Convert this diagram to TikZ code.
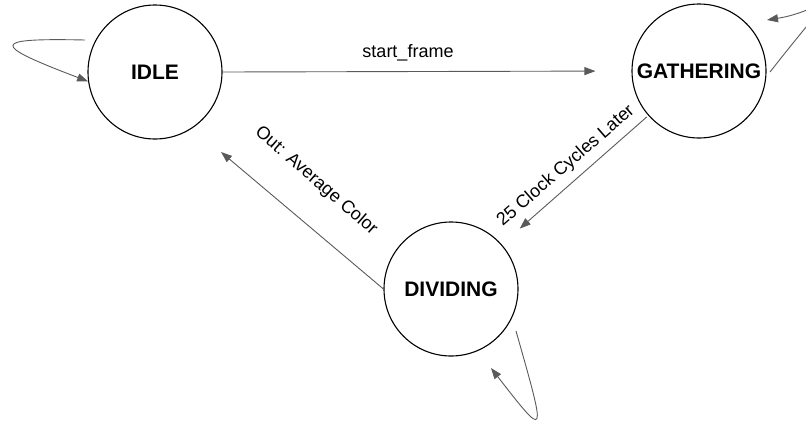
\documentclass[tikz,border=0pt]{standalone}
\usepackage{fontspec}
\setmainfont{Liberation Sans}
\usetikzlibrary{arrows.meta}
\definecolor{edgegray}{HTML}{5A5A5A}
\begin{document}
\begin{tikzpicture}[x=1pt,y=-1pt,
  state/.style={circle,draw=black,line width=1.1pt,minimum size=134pt,inner sep=0pt,
    font=\fontsize{21}{24}\selectfont\bfseries},
  edge/.style={draw=edgegray,line width=0.9pt,-{Triangle[length=11pt,width=8pt]}},
  lbl/.style={font=\fontsize{18}{21}\selectfont,inner sep=0pt}]
\useasboundingbox (0,0) rectangle (806,421);
\clip (0,0) rectangle (806,421);
\node[state] (idle) at (155,72) {IDLE};
\node[state] (gath) at (699,71) {GATHERING};
\node[state] (div) at (451,289) {DIVIDING};
\coordinate (idleloop) at (85,40);
\coordinate (gathloop) at (770,72);
\coordinate (divloop) at (516,331);
\coordinate (idletip) at (221,152);
% transitions
\draw[edge,shorten >=36pt] (idle.east) -- (gath.west);
\draw[edge,shorten <=2pt,shorten >=24pt] (gath) -- (div);
\draw[edge] (div.west) -- (idletip);
% self loops
\draw[edge] (idleloop) .. controls (-10,38) and (-10,44) .. (idle.188);
\draw[edge] (gathloop) .. controls (850,-30) and (830,10) .. (767,20);
\draw[edge] (divloop) .. controls (547,440) and (547,440) .. (491,368);
% labels
\node[lbl] (l1) at (408,53) {start\_frame};
\node[lbl,rotate=41] (l2) at (566,166) {25 Clock Cycles Later};
\node[lbl,rotate=-41] (l3) at (316,181) {Out: Average Color};
\end{tikzpicture}
\end{document}
